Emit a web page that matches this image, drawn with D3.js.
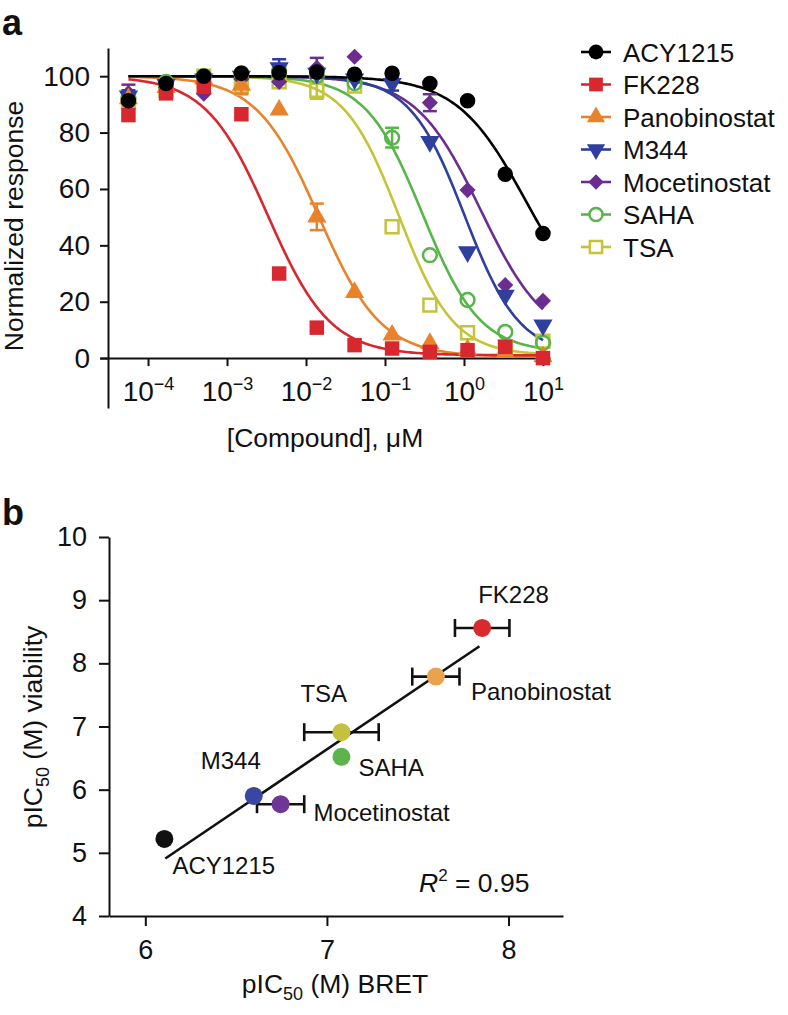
<!DOCTYPE html>
<html><head><meta charset="utf-8">
<script src="https://cdn.jsdelivr.net/npm/d3@7"></script>
<style>
body{margin:0;background:#fff}
svg{display:block}
text{font-family:"Liberation Sans",Arial,Helvetica,sans-serif;fill:#111}
</style>
</head><body>
<svg id="c" width="788" height="1015"></svg>
<script>
// ---------- Panel a data ----------
const seriesNames = ["ACY1215","FK228","Panobinostat","M344","Mocetinostat","SAHA","TSA"];
const concentrations = [0.0000565,0.000169,0.000508,0.00152,0.00457,0.0137,0.0412,0.123,0.370,1.11,3.33,10];
const acy1215 = [91.3,97.4,100,101,101.2,101.5,100.7,101,97.4,91.3,65.2,44.2];
const fk228 = [86.2,93.9,96.2,86.5,30,10.8,4.6,3.4,2.2,2.8,4.0,0];
const panobinostat = [92,96,99,96.8,88,50.1,23.3,8.2,5.2,3,2,0.5];
const m344 = [93,97,99,100,103,101,99,97.4,76.8,37.7,22.3,11.7];
const mocetinostat = [94,96,93.8,99,98,103,106.9,99,90.6,59.6,25.9,20.3];
const saha = [92,98,100,101,102,100,97.5,78.2,36.5,20.6,9.3,5.4];
const tsa = [91,95,100,96.5,98,95,96.5,46.6,18.8,9,4,6];
const seriesValues = [acy1215,fk228,panobinostat,m344,mocetinostat,saha,tsa];
const seriesErrors = [
  [0,0,0,0,0,0,0,0,0,0,0,0],
  [0,0,0,0,0,0,0,0,0,0,0,0],
  [0,0,0,3,0,4.7,0,0,0,0,0,0],
  [2,0,0,0,3,0,0,2.5,0,0,0,0],
  [3,0,0,0,0,3.5,0,0,3,0,0,0],
  [0,0,0,0,0,0,0,3.5,0,0,0,0],
  [0,0,0,3,0,3,0,0,0,0,0,0]
];
// four-parameter logistic fit: top, bottom, IC50 (µM), Hill slope
const fitTop    = [100,100,100,100,100,100,100];
const fitBottom = [12,1,0.5,1,5,2,1];
const fitIC50   = [6.0,0.0033,0.0145,1.02,1.63,0.30,0.15];
const fitHill   = [1.0,1.1,1.1,1.25,1.05,1.2,1.25];
const yTicksA = [0,20,40,60,80,100];
const xTickExps = [-4,-3,-2,-1,0,1];

// ---------- Panel b data ----------
const bNames = ["ACY1215","FK228","Panobinostat","M344","Mocetinostat","SAHA","TSA"];
const bretPIC50 = [6.105,7.855,7.60,6.597,6.745,7.08,7.08];
const viabilityPIC50 = [5.22,8.56,7.79,5.90,5.77,6.52,6.91];
const bretErr = [0,0.15,0.13,0,0.13,0,0.205];
const viabilityErr = [0.07,0,0,0.07,0,0.06,0];
const fitLineX = [6.11,7.84];
const fitLineY = [4.91,8.27];
const xTicksB = [6,7,8];
const yTicksB = [4,5,6,7,8,9,10];

// ---------- styles ----------
const colorsA = ["#000000","#d7282f","#e8832b","#2e3f9e","#6b2e90","#58b54a","#c4c43a"];
const colorsB = ["#111111","#d82a2f","#eba24f","#3947a2","#6f3795","#5db44c","#c2c23e"];
const bLabelOffset = [[8,35],[-4,-25],[35,23],[-53,-27],[33,17],[17,19],[-41,-30]];

const svg = d3.select("#c");

// ================= Panel a =================
const xA = d3.scaleLog().domain([Math.pow(10,-4.608), Math.pow(10,1.089)]).range([100,550]);
const yA = d3.scaleLinear().domain([-17.7,110]).range([408,48]);

svg.append("text").attr("x",2).attr("y",35).attr("font-size",36).attr("font-weight","bold").text("a");

const gxA = svg.append("g").attr("transform","translate(0,"+yA(0)+")")
  .call(d3.axisBottom(xA).tickValues(xTickExps.map(e=>Math.pow(10,e))).tickSize(8).tickSizeOuter(0).tickFormat(""));
gxA.select(".domain").attr("stroke","#111").attr("stroke-width",2);
gxA.selectAll(".tick line").attr("stroke","#111").attr("stroke-width",2);
gxA.selectAll(".tick").each(function(d,i){
  const t = d3.select(this).append("text").attr("y",43).attr("text-anchor","middle").attr("font-size",28).attr("fill","#111");
  t.append("tspan").text("10");
  t.append("tspan").attr("dy",-11).attr("font-size",18).text(xTickExps[i] < 0 ? "\u2212"+Math.abs(xTickExps[i]) : String(xTickExps[i]));
});

const gyA = svg.append("g").attr("transform","translate(108,0)")
  .call(d3.axisLeft(yA).tickValues(yTicksA).tickSize(8).tickSizeOuter(0).tickPadding(10));
gyA.select(".domain").attr("stroke","#111").attr("stroke-width",2);
gyA.selectAll(".tick line").attr("stroke","#111").attr("stroke-width",2);
gyA.selectAll(".tick text").attr("font-size",28).attr("fill","#111").attr("font-family","Liberation Sans, Arial, sans-serif");

svg.append("text").attr("transform","translate(23,226) rotate(-90)").attr("text-anchor","middle").attr("font-size",26.5).text("Normalized response");
svg.append("text").attr("x",325).attr("y",447).attr("text-anchor","middle").attr("font-size",26.5).text("[Compound], \u03bcM");

function logistic(i,c){ return fitBottom[i] + (fitTop[i]-fitBottom[i])/(1+Math.pow(c/fitIC50[i], fitHill[i])); }
const cMin = concentrations[0], cMax = concentrations[concentrations.length-1];
const curveSamples = d3.range(0,201).map(j => Math.pow(10, Math.log10(cMin) + (Math.log10(cMax)-Math.log10(cMin))*j/200));
const lineA = d3.line().x(d=>xA(d[0])).y(d=>yA(d[1]));

function markerPath(i, scale){
  const s = scale||1;
  if(i===0) return {d:d3.symbol(d3.symbolCircle, 190*s)(), rot:0, fill:true};
  if(i===1) return {d:d3.symbol(d3.symbolSquare, 210*s)(), rot:0, fill:true};
  if(i===2) return {d:d3.symbol(d3.symbolTriangle, 160*s)(), rot:0, fill:true};
  if(i===3) return {d:d3.symbol(d3.symbolTriangle, 160*s)(), rot:180, fill:true};
  if(i===4) return {d:d3.symbol(d3.symbolSquare, 130*s)(), rot:45, fill:true};
  if(i===5) return {d:d3.symbol(d3.symbolCircle, 150*s)(), rot:0, fill:false};
  return {d:d3.symbol(d3.symbolSquare, 165*s)(), rot:0, fill:false};
}

const order = [6,5,4,3,2,1,0];
const plotA = svg.append("g");
order.forEach(i=>{
  plotA.append("path").datum(curveSamples.map(c=>[c,logistic(i,c)]))
    .attr("d",lineA).attr("fill","none").attr("stroke",colorsA[i]).attr("stroke-width",2.6);
});
order.forEach(i=>{
  const g = plotA.append("g");
  const pts = concentrations.map((c,k)=>({c, v:seriesValues[i][k], e:seriesErrors[i][k]}));
  pts.filter(p=>p.e>0).forEach(p=>{
    const x = xA(p.c);
    g.append("line").attr("x1",x).attr("x2",x).attr("y1",yA(p.v-p.e)).attr("y2",yA(p.v+p.e)).attr("stroke",colorsA[i]).attr("stroke-width",2.5);
    [p.v-p.e,p.v+p.e].forEach(v=>g.append("line").attr("x1",x-7).attr("x2",x+7).attr("y1",yA(v)).attr("y2",yA(v)).attr("stroke",colorsA[i]).attr("stroke-width",2.5));
  });
  const m = markerPath(i);
  g.selectAll("path.pt").data(pts).enter().append("path").attr("class","pt")
    .attr("d",m.d)
    .attr("transform",p=>"translate("+xA(p.c)+","+yA(p.v)+") rotate("+m.rot+")")
    .attr("fill",m.fill?colorsA[i]:"none")
    .attr("stroke",colorsA[i]).attr("stroke-width",m.fill?0:2.5);
});

// legend
const legendY = [52,84.5,117,149.5,182,214.5,247];
seriesNames.forEach((n,i)=>{
  const g = svg.append("g").attr("transform","translate(0,"+legendY[i]+")");
  g.append("line").attr("x1",581).attr("x2",611).attr("stroke",colorsA[i]).attr("stroke-width",2.6);
  const m = markerPath(i,0.9);
  g.append("path").attr("d",m.d).attr("transform","translate(596,0) rotate("+m.rot+")")
    .attr("fill",m.fill?colorsA[i]:"#fff").attr("stroke",colorsA[i]).attr("stroke-width",m.fill?0:2.5);
  g.append("text").attr("x",623).attr("y",9.5).attr("font-size",26).text(n);
});

// ================= Panel b =================
const xB = d3.scaleLinear().domain([5.8,8.3]).range([109,563]);
const yB = d3.scaleLinear().domain([4,10]).range([916,537]);

svg.append("text").attr("x",2).attr("y",525).attr("font-size",36).attr("font-weight","bold").text("b");

const gxB = svg.append("g").attr("transform","translate(0,916)")
  .call(d3.axisBottom(xB).tickValues(xTicksB).tickFormat(d3.format("d")).tickSize(10).tickSizeOuter(0).tickPadding(14));
gxB.select(".domain").attr("stroke","#111").attr("stroke-width",2);
gxB.selectAll(".tick line").attr("stroke","#111").attr("stroke-width",2);
gxB.selectAll(".tick text").attr("font-size",27).attr("fill","#111").attr("font-family","Liberation Sans, Arial, sans-serif");

const gyB = svg.append("g").attr("transform","translate(109,0)")
  .call(d3.axisLeft(yB).tickValues(yTicksB).tickFormat(d3.format("d")).tickSize(10).tickSizeOuter(0).tickPadding(12));
gyB.select(".domain").attr("stroke","#111").attr("stroke-width",2);
gyB.selectAll(".tick line").attr("stroke","#111").attr("stroke-width",2);
gyB.selectAll(".tick text").attr("font-size",27).attr("fill","#111").attr("font-family","Liberation Sans, Arial, sans-serif");

const tB = svg.append("text").attr("x",335).attr("y",993).attr("text-anchor","middle").attr("font-size",26.5);
tB.append("tspan").text("pIC");
tB.append("tspan").attr("dy",7).attr("font-size",18).text("50");
tB.append("tspan").attr("dy",-7).text(" (M) BRET");

const tV = svg.append("text").attr("transform","translate(42,727) rotate(-90)").attr("text-anchor","middle").attr("font-size",26.5);
tV.append("tspan").text("pIC");
tV.append("tspan").attr("dy",7).attr("font-size",18).text("50");
tV.append("tspan").attr("dy",-7).text(" (M) viability");

// regression line
svg.append("line").attr("x1",xB(fitLineX[0])).attr("y1",yB(fitLineY[0])).attr("x2",xB(fitLineX[1])).attr("y2",yB(fitLineY[1]))
  .attr("stroke","#111").attr("stroke-width",2.6);

const plotB = svg.append("g");
bNames.forEach((n,i)=>{
  const x = xB(bretPIC50[i]), y = yB(viabilityPIC50[i]);
  if(bretErr[i]>0){
    const x0 = xB(bretPIC50[i]-bretErr[i]), x1 = xB(bretPIC50[i]+bretErr[i]);
    plotB.append("line").attr("x1",x0).attr("x2",x1).attr("y1",y).attr("y2",y).attr("stroke","#111").attr("stroke-width",2.6);
    [x0,x1].forEach(xx=>plotB.append("line").attr("x1",xx).attr("x2",xx).attr("y1",y-9).attr("y2",y+9).attr("stroke","#111").attr("stroke-width",2.6));
  }
  if(viabilityErr[i]>0){
    const y0 = yB(viabilityPIC50[i]-viabilityErr[i]), y1 = yB(viabilityPIC50[i]+viabilityErr[i]);
    plotB.append("line").attr("x1",x).attr("x2",x).attr("y1",y0).attr("y2",y1).attr("stroke","#111").attr("stroke-width",2.6);
    [y0,y1].forEach(yy=>plotB.append("line").attr("x1",x-6).attr("x2",x+6).attr("y1",yy).attr("y2",yy).attr("stroke","#111").attr("stroke-width",2.6));
  }
});
bNames.forEach((n,i)=>{
  const x = xB(bretPIC50[i]), y = yB(viabilityPIC50[i]);
  plotB.append("circle").attr("cx",x).attr("cy",y).attr("r",9).attr("fill",colorsB[i]);
  plotB.append("text").attr("x",x+bLabelOffset[i][0]).attr("y",y+bLabelOffset[i][1]).attr("font-size",24).text(n);
});

const r2 = svg.append("text").attr("x",419).attr("y",892).attr("font-size",26.5);
r2.append("tspan").attr("font-style","italic").text("R");
r2.append("tspan").attr("dy",-11).attr("font-size",17).text("2");
r2.append("tspan").attr("dy",11).text(" = 0.95");
</script>
</body></html>
